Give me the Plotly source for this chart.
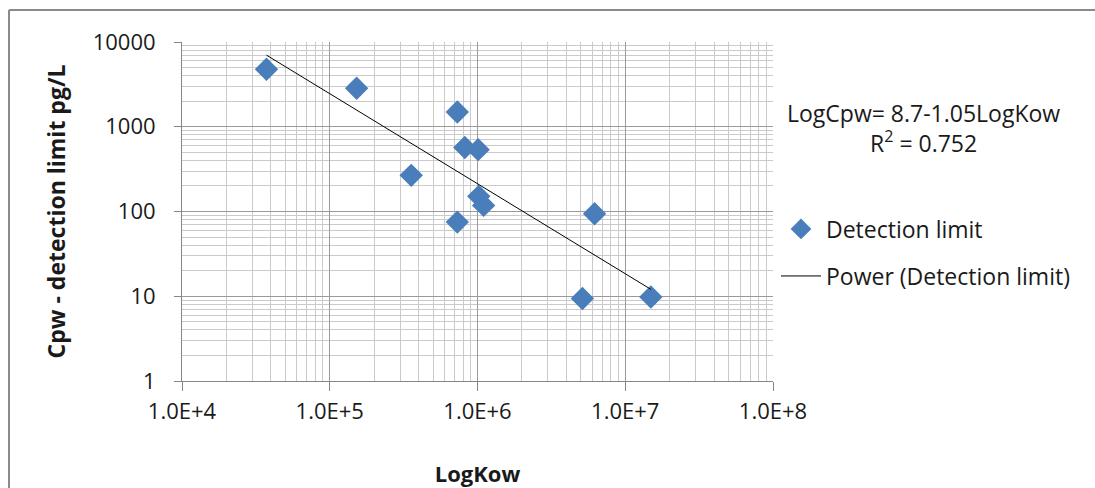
import numpy as np
import plotly.graph_objects as go

# Data
kow = [3.73e4, 1.52e5, 7.3e5, 8.2e5, 1.01e6, 3.56e5, 1.02e6, 1.10e6, 7.3e5, 6.2e6, 5.13e6, 1.49e7]
cpw = [4760, 2845, 1490, 568, 537, 267, 151, 118, 75, 94, 9.4, 9.8]

x_tickvals = [1e4, 1e5, 1e6, 1e7, 1e8]
x_ticktext = ["1.0E+4", "1.0E+5", "1.0E+6", "1.0E+7", "1.0E+8"]
y_tickvals = [1, 10, 100, 1000, 10000]
y_ticktext = ["1", "10", "100", "1000", "10000"]

# Power trend line fitted from data
lx = np.log10(kow)
ly = np.log10(cpw)
b, a = np.polyfit(lx, ly, 1)
xfit = np.logspace(lx.min(), lx.max(), 50)
yfit = 10 ** (a + b * np.log10(xfit))

FONT = "Open Sans"
TXT = "#1a1a1a"
fig = go.Figure()
fig.add_trace(go.Scatter(x=kow, y=cpw, mode="markers", name="Detection limit",
                         marker=dict(symbol="diamond", size=18, color="#4a7ebb"),
                         legend="legend", showlegend=True))
fig.add_trace(go.Scatter(x=xfit, y=yfit, mode="lines", name="Power (Detection limit)",
                         line=dict(color="black", width=1), legend="legend2", showlegend=True))

axis_common = dict(type="log", showline=True, linecolor="#868686", linewidth=1,
                   gridcolor="#9a9a9a", gridwidth=1, ticks="outside", tickcolor="#868686",
                   zeroline=False, mirror=False, automargin=False,
                   minor=dict(dtick="D1", showgrid=True, gridcolor="#cacaca", gridwidth=1, ticks=""))

fig.update_xaxes(**axis_common, range=[4, 8], tickvals=x_tickvals, ticktext=x_ticktext,
                 ticklen=9, tickfont=dict(family=FONT, size=22, color=TXT),
                 title=dict(text="<b>LogKow</b>", font=dict(family=FONT, size=22, color=TXT), standoff=43),
                 ticklabelstandoff=2)
fig.update_yaxes(**axis_common, range=[0, 4], tickvals=y_tickvals, ticktext=y_ticktext,
                 ticklen=7, tickfont=dict(family=FONT, size=22, color=TXT),
                 title=dict(text="<b>Cpw - detection limit pg/L</b>", font=dict(family=FONT, size=23, color=TXT), standoff=20),
                 ticklabelstandoff=14)

fig.add_annotation(xref="paper", yref="paper", x=(923 - 182) / 591, y=(381 - 128) / 339,
                   xanchor="center", yanchor="middle",
                   text="LogCpw= 8.7-1.05LogKow<br>R<sup>2</sup> = 0.752", showarrow=False,
                   font=dict(family=FONT, size=23, color=TXT), align="center")

fig.add_shape(type="line", xref="paper", yref="paper",
              x0=(9 - 182) / 591, y0=(381 - 10) / 339, x1=(1200 - 182) / 591, y1=(381 - 10) / 339,
              line=dict(color="#8a8a8a", width=2), layer="above")
fig.add_shape(type="line", xref="paper", yref="paper",
              x0=(9 - 182) / 591, y0=(381 - 10) / 339, x1=(9 - 182) / 591, y1=(381 - 600) / 339,
              line=dict(color="#8a8a8a", width=2), layer="above")

fig.update_layout(
    width=1095, height=488,
    margin=dict(l=182, r=322, t=42, b=107),
    plot_bgcolor="white", paper_bgcolor="white",
    showlegend=True,
    font=dict(family=FONT, size=22, color=TXT),
    legend=dict(x=(776 - 182) / 591, y=(381 - 229) / 339, xanchor="left", yanchor="middle",
                bgcolor="rgba(0,0,0,0)", font=dict(family=FONT, size=23, color=TXT), itemwidth=40),
    legend2=dict(x=(776 - 182) / 591, y=(381 - 276) / 339, xanchor="left", yanchor="middle",
                 bgcolor="rgba(0,0,0,0)", font=dict(family=FONT, size=23, color=TXT), itemwidth=40),
)

fig.write_html("out.html", config={"displayModeBar": False},
               post_script="document.body.style.margin='0';document.body.style.overflow='hidden';")
